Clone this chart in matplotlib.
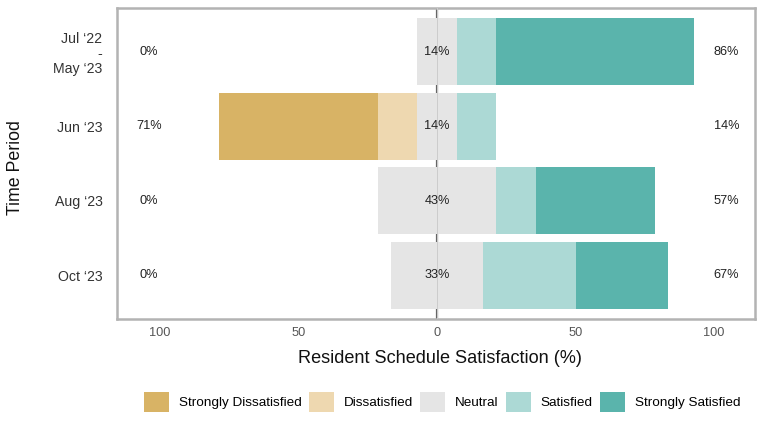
import matplotlib
matplotlib.use("Agg")
import matplotlib.pyplot as plt
from matplotlib.patches import Patch
import numpy as np

plt.rcParams['font.family'] = ['Liberation Sans', 'DejaVu Sans']

periods = ["Jul \u201822\n-\nMay \u201823", "Jun \u201823", "Aug \u201823", "Oct \u201823"]
levels = ["Strongly Dissatisfied", "Dissatisfied", "Neutral", "Satisfied", "Strongly Satisfied"]
colors = ["#D8B365", "#EED8B0", "#E5E5E5", "#ACD9D5", "#5AB4AC"]

# percentages per period (rows) for each level
strongly_dissatisfied = [0.0, 57.14, 0.0, 0.0]
dissatisfied = [0.0, 14.29, 0.0, 0.0]
neutral = [14.29, 14.29, 42.86, 33.33]
satisfied = [14.29, 14.29, 14.29, 33.33]
strongly_satisfied = [71.43, 0.0, 42.86, 33.33]

low_labels = ["0%", "71%", "0%", "0%"]
mid_labels = ["14%", "14%", "43%", "33%"]
high_labels = ["86%", "14%", "57%", "67%"]

xticks = [-100, -50, 0, 50, 100]
xtick_labels = ["100", "50", "0", "50", "100"]

fig = plt.figure(figsize=(7.65, 4.21), dpi=100)
ax = fig.add_axes([0.153, 0.242, 0.834, 0.739])

n = len(periods)
ypos = np.arange(n)[::-1] + 1  # top row first
sd = np.array(strongly_dissatisfied)
d = np.array(dissatisfied)
ne = np.array(neutral)
s = np.array(satisfied)
ss = np.array(strongly_satisfied)

h = 0.9
ax.axvline(0, color="#666666", lw=1.6, zorder=0)
left_start = -ne / 2 - d - sd
ax.barh(ypos, sd, left=left_start, height=h, color=colors[0], zorder=2)
ax.barh(ypos, d, left=left_start + sd, height=h, color=colors[1], zorder=2)
ax.barh(ypos, ne, left=-ne / 2, height=h, color=colors[2], zorder=2)
ax.barh(ypos, s, left=ne / 2, height=h, color=colors[3], zorder=2)
ax.barh(ypos, ss, left=ne / 2 + s, height=h, color=colors[4], zorder=2)
ax.axvline(0, color="#cccccc", lw=0.7, zorder=3)

for y, lo, mi, hi in zip(ypos, low_labels, mid_labels, high_labels):
    ax.text(-104, y, lo, ha="center", va="center", fontsize=9.2, color="#222222", zorder=4)
    ax.text(0, y, mi, ha="center", va="center", fontsize=9.2, color="#222222", zorder=4)
    ax.text(104.5, y, hi, ha="center", va="center", fontsize=9.2, color="#222222", zorder=4)

ax.set_xlim(-115.5, 114.8)
ax.set_ylim(0.41, 4.59)
ax.set_yticks(ypos)
ax.set_yticklabels(periods, fontsize=10.2, color="#333333", linespacing=1.1)
ax.set_xticks(xticks)
ax.set_xticklabels(xtick_labels, fontsize=9.2, color="#555555")
ax.tick_params(axis='x', length=0, pad=6)
ax.tick_params(axis='y', length=0, pad=10.5)
for sp in ax.spines.values():
    sp.set_color("#b3b3b3")
    sp.set_linewidth(1.8)

ax.set_xlabel("Resident Schedule Satisfaction (%)", fontsize=13.1, color="#111111")
ax.xaxis.set_label_coords(0.506, -(358 - 319) / 311)
ax.xaxis.label.set_verticalalignment('center')
ax.set_ylabel("Time Period", fontsize=12.8, color="#111111")
ax.yaxis.set_label_coords((15 - 117) / 638, (319 - 168) / 311)
ax.yaxis.label.set_verticalalignment('center')

handles = [Patch(facecolor=c, edgecolor='none') for c in colors]
fig.legend(handles, levels, loc="center", bbox_to_anchor=(0.578, 0.045), ncol=5,
           frameon=False, fontsize=9.7, handlelength=1.85, handleheight=1.85,
           handletextpad=0.72, columnspacing=0.55)

fig.savefig("out.png", dpi=100)
